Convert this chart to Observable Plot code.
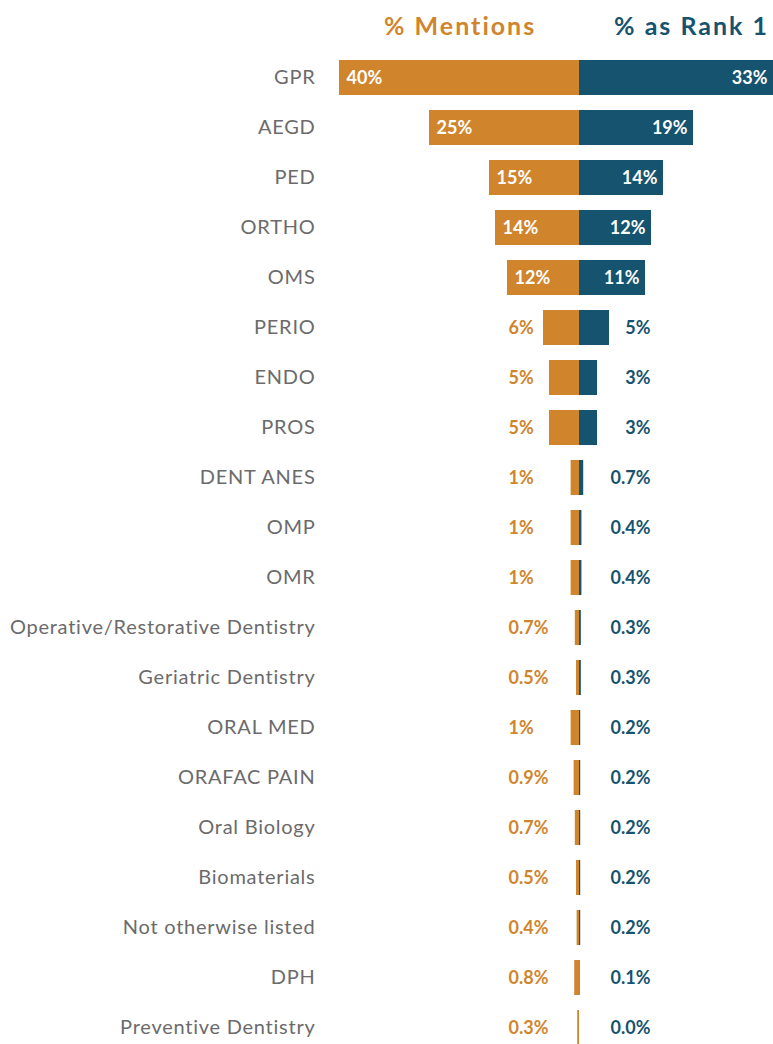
<!DOCTYPE html>
<html>
<head>
<meta charset="utf-8">
<script src="https://cdn.jsdelivr.net/npm/d3@7"></script>
<script src="https://cdn.jsdelivr.net/npm/@observablehq/plot@0.6"></script>
<style>
  body { margin: 0; background: #fff; font-family: Lato, "Open Sans", sans-serif; }
  #wrap { position: relative; width: 773px; }
  #head { position: relative; height: 50px; }
  #head span { position: absolute; top: 10px; font-size: 25px; font-weight: 700; white-space: nowrap; letter-spacing: 2px; }
  #t1 { left: 384px; color: #D0852D; }
  #t2 { right: 4px; color: #15536E; }
  .yax text { letter-spacing: 0.75px; }
</style>
</head>
<body>
<div id="wrap">
  <div id="head"><span id="t1">% Mentions</span><span id="t2">% as Rank 1</span></div>
  <div id="chart"></div>
</div>
<script>
const categories = ["GPR","AEGD","PED","ORTHO","OMS","PERIO","ENDO","PROS","DENT ANES","OMP","OMR",
  "Operative/Restorative Dentistry","Geriatric Dentistry","ORAL MED","ORAFAC PAIN","Oral Biology",
  "Biomaterials","Not otherwise listed","DPH","Preventive Dentistry"];
const mentions = [40,25,15,14,12,6,5,5,1.4,1.4,1.4,0.7,0.5,1.4,0.9,0.7,0.5,0.4,0.8,0.3];
const rank1 =    [33,19,14,12,11,5,3,3,0.7,0.4,0.4,0.3,0.3,0.2,0.2,0.2,0.2,0.2,0.1,0.0];

const ORANGE = "#D0852D", BLUE = "#15536E";
const fmt = v => (v >= 1 ? d3.format(".0f")(v) : d3.format(".1f")(v)) + "%";

const left = categories.map((c, i) => ({cat: c, v: mentions[i]}));
const right = categories.map((c, i) => ({cat: c, v: rank1[i]}));
const inside = d => d.v >= 10;

const plot = Plot.plot({
  width: 773,
  height: 1003,
  marginTop: 2,
  marginBottom: 0,
  marginLeft: 339,
  marginRight: 0,
  style: {fontFamily: "Lato, 'Open Sans', sans-serif", background: "#fff"},
  x: {domain: [-40, 32.33], clamp: true, axis: null},
  y: {domain: categories, paddingInner: 0.3, paddingOuter: 0.15, label: null},
  marks: [
    Plot.barX(left, {y: "cat", x1: 0, x2: d => -d.v, fill: ORANGE}),
    Plot.barX(right, {y: "cat", x1: 0, x2: "v", fill: BLUE}),
    // inside labels
    Plot.text(left.filter(inside), {y: "cat", x: d => -d.v, dx: 7, text: d => fmt(d.v),
      textAnchor: "start", fill: "#fff", fontWeight: 700, fontSize: 18}),
    Plot.text(right.filter(inside), {y: "cat", x: "v", dx: -6, text: d => fmt(d.v),
      textAnchor: "end", fill: "#fff", fontWeight: 700, fontSize: 18}),
    // outside labels
    Plot.text(left.filter(d => !inside(d)), {y: "cat", x: 0, dx: -71, text: d => fmt(d.v),
      textAnchor: "start", fill: ORANGE, fontWeight: 700, fontSize: 18}),
    Plot.text(right.filter(d => !inside(d)), {y: "cat", x: 0, dx: 71, text: d => fmt(d.v),
      textAnchor: "end", fill: BLUE, fontWeight: 700, fontSize: 18}),
    Plot.axisY({anchor: "left", tickSize: 0, tickPadding: 24, fontSize: 20, fill: "#6b6b6b", label: null, className: "yax"})
  ]
});
document.getElementById("chart").appendChild(plot);
</script>
</body>
</html>
